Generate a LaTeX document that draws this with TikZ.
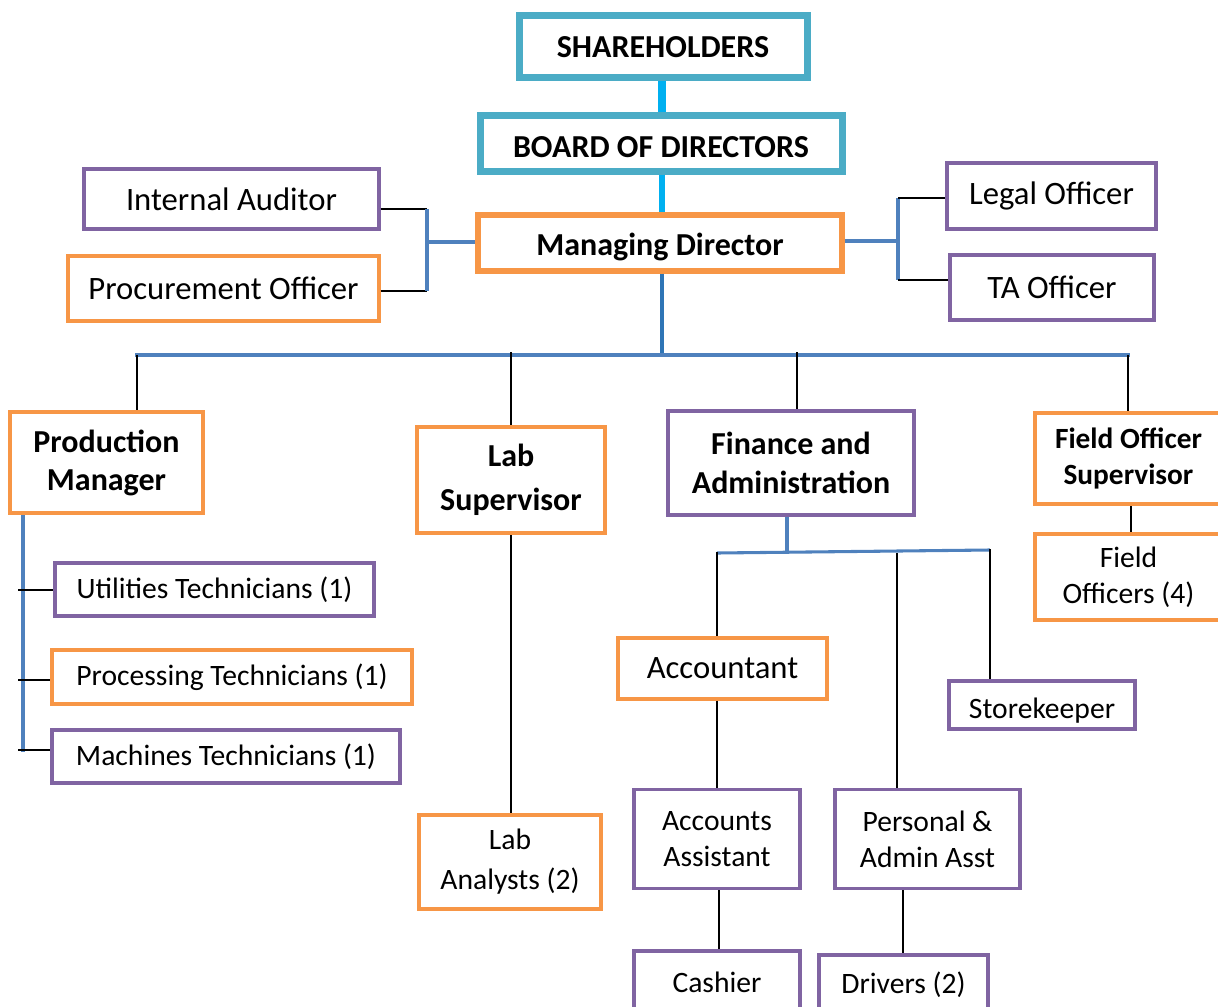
\documentclass[tikz,border=0pt]{standalone}
\usepackage{fontspec}
\setmainfont{Carlito}
\usetikzlibrary{calc}
\definecolor{cteal}{HTML}{4BACC6}
\definecolor{ccyan}{HTML}{00B0F0}
\definecolor{corange}{HTML}{F79646}
\definecolor{cpurple}{HTML}{8064A2}
\definecolor{cblue}{HTML}{4F81BD}
\definecolor{cdblue}{HTML}{2E75B6}
\newcommand{\shiftdown}[2]{\raisebox{-#1}[\height][\depth]{#2}}
\begin{document}
\begin{tikzpicture}[x=0.75pt,y=-0.75pt,
  box/.style={draw, rectangle, align=center, inner sep=0pt, text=black},
  wh/.style 2 args={minimum width=#1*0.75pt, minimum height=#2*0.75pt},
  big/.style={font=\fontsize{24.5}{29}\selectfont},
  reg/.style={font=\fontsize{22.2}{27}\selectfont},
  bld/.style={font=\fontsize{24}{29}\selectfont\bfseries},
  tealbox/.style={box, draw=cteal, line width=5.25pt, bld},
  orbox/.style={box, draw=corange, line width=2.6pt},
  pubox/.style={box, draw=cpurple, line width=2.4pt},
  blk/.style={draw=black, line width=1.9pt},
  bll/.style={draw=cblue, line width=2.3pt},
  cyl/.style={draw=ccyan},
]
\useasboundingbox (0,0) rectangle (1218,1007);

% nodes
\node[tealbox, wh={288}{62}] (sh) at (663,46) {\shiftdown{1pt}{SHAREHOLDERS}};
\node[tealbox, wh={362}{56}] (bod) at (661,143) {\shiftdown{3pt}{BOARD OF DIRECTORS}};
\node[orbox, line width=3.9pt, bld, wh={364}{56}] (md) at (660,243) {\shiftdown{3pt}{Managing Director}};

\node[pubox, big, wh={295}{60}] (ia) at (231.5,199) {Internal Auditor};
\node[orbox, big, wh={311}{65}] (po) at (223.5,288.5) {Procurement Officer};
\node[pubox, big, wh={209}{66}] (lo) at (1051.5,196) {Legal Officer};
\node[pubox, big, wh={204}{65}] (ta) at (1052,287.5) {TA Officer};

\node[orbox, line width=3pt, font=\fontsize{24}{28.5}\selectfont\bfseries, wh={193}{101}] (pm) at (106.5,462.5) {Production\\Manager};
\node[orbox, line width=3pt, font=\fontsize{24}{33}\selectfont\bfseries, wh={188}{106}] (ls) at (511,480) {Lab\\Supervisor};
\node[pubox, line width=3pt, font=\fontsize{24}{29.25}\selectfont\bfseries, wh={246}{104}] (fa) at (791,463) {Finance and\\Administration};
\node[orbox, line width=3pt, font=\fontsize{22}{27}\selectfont\bfseries, wh={187}{91}] (fos) at (1128.5,458.5) {Field Officer\\Supervisor};
\node[orbox, line width=3pt, reg, wh={187}{86}] (fo) at (1128.5,577) {Field\\Officers (4)};

\node[pubox, reg, wh={319}{53}] (ut) at (214.5,589.5) {Utilities Technicians (1)};
\node[orbox, reg, wh={360}{54}] (pt) at (232,677) {Processing Technicians (1)};
\node[pubox, reg, wh={348}{53}] (mt) at (226,756.5) {Machines Technicians (1)};

\node[orbox, font=\fontsize{22.2}{30}\selectfont, wh={182}{94}] (la) at (510,862) {Lab\\Analysts (2)};
\node[orbox, big, wh={209}{61}] (acc) at (722.5,668.5) {Accountant};
\node[pubox, reg, wh={186}{48}] (sk) at (1042,705) {\shiftdown{4pt}{Storekeeper}};
\node[pubox, reg, wh={166}{99}] (aa) at (717,839) {Accounts\\Assistant};
\node[pubox, reg, wh={185}{99}] (pa) at (927.5,839) {Personal \&\\Admin Asst};
\node[pubox, reg, wh={166}{62}] (ca) at (717,982) {Cashier};
\node[pubox, reg, wh={169}{60}] (dr) at (903.5,985) {Drivers (2)};

% top connectors
\draw[cyl, line width=6pt] (sh.south -| 662,0) -- (bod.north -| 662,0);
\draw[cyl, line width=4.5pt] (bod.south -| 662,0) -- (md.north -| 662,0);

% left staff group
\coordinate (jl) at (427,242);
\draw[blk] (ia.east |- 0,209) -- (jl |- 0,209);
\draw[blk] (po.east |- 0,291) -- (jl |- 0,291);
\draw[bll] (jl |- 0,209) -- (jl |- 0,291);
\draw[bll] (jl) -- (md.west |- jl);

% right staff group
\coordinate (jr) at (898,241);
\draw[bll] (md.east |- jr) -- (jr);
\draw[bll] (jr |- 0,198) -- (jr |- 0,280);
\draw[blk] (jr |- 0,198) -- (lo.west |- 0,198);
\draw[blk] (jr |- 0,280) -- (ta.west |- 0,280);

% main bus
\coordinate (busL) at (135,355);
\coordinate (busR) at (1130,355);
\draw[draw=cdblue, line width=2.6pt] (md.south -| 662,0) -- (662,355);
\draw[bll] (busL) -- (busR);
\draw[blk] (137,355) -- (pm.north -| 137,0);
\draw[blk] (511,352) -- (ls.north);
\draw[blk] (797,352) -- (fa.north -| 797,0);
\draw[blk] (1128,355) -- (fos.north -| 1128,0);
\draw[blk] (fos.south -| 1131,0) -- (fo.north -| 1131,0);

% production children
\draw[bll] (pm.south -| 23,0) -- (23,752);
\draw[blk] (18,590) -- (ut.west |- 0,590);
\draw[blk] (18,680) -- (pt.west |- 0,680);
\draw[blk] (18,750) -- (mt.west |- 0,750);

% lab
\draw[blk] (ls.south) -- (ls.south |- la.north);

% finance children
\draw[bll] (fa.south -| 787,0) -- (787,552);
\draw[bll] (717,553) -- (990,550);
\draw[blk] (717,552) -- (acc.north -| 717,0);
\draw[blk] (897,553) -- (pa.north -| 897,0);
\draw[blk] (990,549) -- (sk.north -| 990,0);
\draw[blk] (acc.south -| 717,0) -- (aa.north -| 717,0);
\draw[blk] (aa.south -| 719,0) -- (ca.north -| 719,0);
\draw[blk] (pa.south -| 903,0) -- (dr.north -| 903,0);
\end{tikzpicture}
\end{document}
